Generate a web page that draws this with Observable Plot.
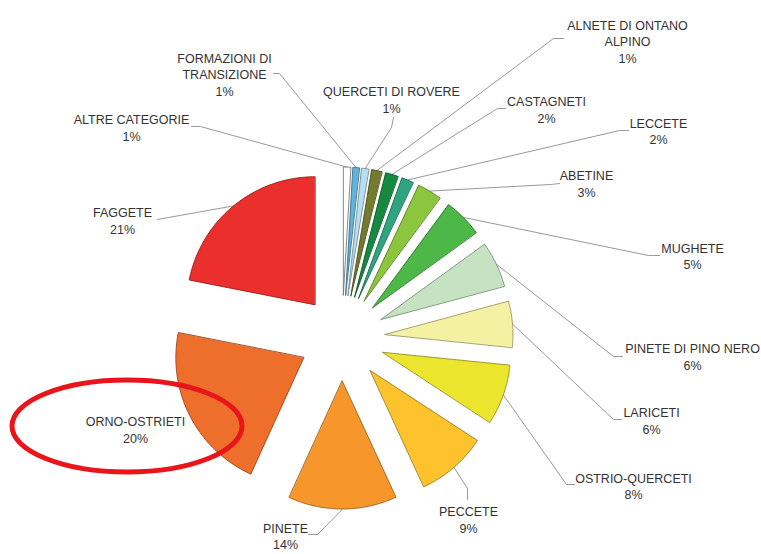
<!DOCTYPE html>
<html><head><meta charset="utf-8">
<script src="https://cdn.jsdelivr.net/npm/d3@7"></script>
<script src="https://cdn.jsdelivr.net/npm/@observablehq/plot@0.6"></script>
<style>body{margin:0;background:#fff}</style>
</head><body><div id="chart"></div>
<script>
// ---- data ----
const categories = ["ALTRE CATEGORIE","FORMAZIONI DI\nTRANSIZIONE","QUERCETI DI ROVERE","ALNETE DI ONTANO\nALPINO","CASTAGNETI","LECCETE","ABETINE","MUGHETE","PINETE DI PINO NERO","LARICETI","OSTRIO-QUERCETI","PECCETE","PINETE","ORNO-OSTRIETI","FAGGETE"];
const shares = [0.9,0.8,0.9,1.3,1.6,1.5,3.1,4.9,5.8,5.8,7.6,8.9,13.7,21.3,21.9];
const pctLabels = ["1%","1%","1%","1%","2%","2%","3%","5%","6%","6%","8%","9%","14%","20%","21%"];
const colors = ["#ffffff","#5fb3dc","#b7def0","#737b2c","#14893f","#2ea57e","#8cc63f","#4db748","#c5e3c1","#f5f1a2","#ebe52e","#fdc22c","#f7972b","#ee6f2b","#ea2f2c"];

// ---- layout (label block centre, leader elbow, leader end) ----
const labelLayout = [
  [131,126.5, 200,126, 191,126],
  [224,73.5, 279,73, 273,73],
  [391,98.5, 391,127, 393,117],
  [627,40.5, 553,38, 563,38],
  [546,108.5, 497,108, 505,108],
  [658,130, 619,130, 628,130],
  [586,182.5, 550,184, 559,183],
  [692,255, 648,255, 659,255],
  [692,355.5, 613,356, 622,356],
  [651,419.5, 613,419, 621,419],
  [633,485, 566,484, 574,484],
  [468,518.5, 467,488, 467,499],
  [285,535, 317,534, 308,534],
  [135,428.5, null,null,null,null],
  [122,219.5, 168,217, 157,219]
];

const W = 761, H = 554;
const CX = 341.6, CY = 337.5, R = 128, EXPLODE = 43;

const arcs = d3.pie().sort(null).value(d => d).startAngle(0).endAngle(2*Math.PI)(shares);

const slicePts = [];
const leaderPts = [];
const labelRows = [];
arcs.forEach((a, i) => {
  const s = a.startAngle, e = a.endAngle, m = (s + e) / 2;
  const ax = CX + EXPLODE * Math.sin(m), ay = CY - EXPLODE * Math.cos(m);
  const fill = colors[i];
  const stroke = i === 0 ? "#777" : d3.color(fill).darker(1.3).formatHex();
  slicePts.push({id: i, x: ax, y: ay, fill, stroke});
  const n = Math.max(2, Math.ceil((e - s) / (Math.PI / 180)));
  for (let k = 0; k <= n; k++) {
    const t = s + (e - s) * k / n;
    slicePts.push({id: i, x: ax + R * Math.sin(t), y: ay - R * Math.cos(t), fill, stroke});
  }
  const L = labelLayout[i];
  labelRows.push({x: L[0], y: L[1], text: categories[i] + "\n" + pctLabels[i]});
  if (L[2] != null) {
    leaderPts.push({id: i, x: ax + R * Math.sin(m), y: ay - R * Math.cos(m)});
    leaderPts.push({id: i, x: L[2], y: L[3]});
    leaderPts.push({id: i, x: L[4], y: L[5]});
  }
});

const plot = Plot.plot({
  width: W, height: H,
  margin: 0,
  x: {domain: [0, W], range: [0, W], axis: null},
  y: {domain: [0, H], range: [0, H], axis: null},
  color: {type: "identity"},
  style: {background: "#fff"},
  marks: [
    Plot.line(leaderPts, {x: "x", y: "y", z: "id", stroke: "#8c8c8c", strokeWidth: 0.9}),
    Plot.line(slicePts, {x: "x", y: "y", z: "id", fill: "fill", stroke: "stroke", strokeWidth: 0.9, curve: "linear-closed"}),
    Plot.text(labelRows, {x: "x", y: "y", text: "text", fontSize: 12.5, fill: "#333", lineHeight: 1.32,
      fontFamily: "Arial, 'Liberation Sans', sans-serif"})
  ]
});
document.getElementById("chart").appendChild(plot);

// red annotation ellipse around ORNO-OSTRIETI
const sx = plot.scale("x"), sy = plot.scale("y");
d3.select(plot).append("ellipse")
  .attr("cx", sx.apply(127)).attr("cy", sy.apply(426))
  .attr("rx", 115).attr("ry", 46)
  .attr("fill", "none").attr("stroke", "#e8161b").attr("stroke-width", 5);
</script>
</body></html>
